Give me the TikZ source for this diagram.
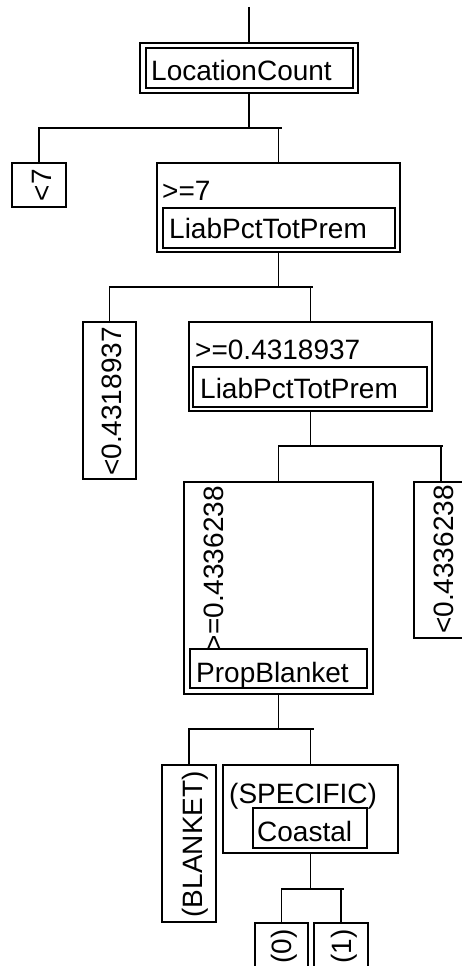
\documentclass[tikz,border=0pt]{standalone}
\usepackage{fontspec}
\setmainfont{Liberation Sans}
\begin{document}
\begin{tikzpicture}[x=1pt,y=-1pt,
  obox/.style={draw, line width=1.8pt, inner sep=0pt, rectangle},
  ibox/.style={draw, line width=1.3pt, inner sep=0pt, rectangle},
  lbl/.style={inner sep=0pt, font=\fontsize{28}{33}\selectfont},
  conn/.style={line width=1.8pt}]
\useasboundingbox (0,0) rectangle (462,966);
\fill[white] (0,0) rectangle (462,966);

% outer boxes
\node[obox, minimum width=218pt, minimum height=50pt] (root) at (249,68) {};
\node[obox, minimum width=54pt, minimum height=44pt] (lt7) at (39,185) {};
\node[obox, minimum width=243pt, minimum height=89pt] (ge7) at (278.5,207.5) {};
\node[obox, minimum width=53pt, minimum height=157pt] (lt43) at (109.5,400.5) {};
\node[obox, minimum width=243pt, minimum height=89pt] (ge43) at (310.5,366.5) {};
\node[obox, minimum width=189pt, minimum height=212pt] (ge4336) at (278.5,588) {};
\node[obox, minimum width=54pt, minimum height=156pt] (lt4336) at (441,560) {};
\node[obox, minimum width=54pt, minimum height=157pt] (blanket) at (189,843.5) {};
\node[obox, minimum width=175pt, minimum height=88pt] (specific) at (310.5,809) {};
\node[obox, minimum width=53pt, minimum height=100pt] (zero) at (281.5,973) {};
\node[obox, minimum width=54pt, minimum height=100pt] (one) at (341,973) {};

% inner boxes
\node[ibox, minimum width=207pt, minimum height=40pt] (rootin) at (249.5,68) {};
\node[ibox, minimum width=232pt, minimum height=40pt] (ge7in) at (279,228) {};
\node[ibox, minimum width=234pt, minimum height=40pt] (ge43in) at (310,387) {};
\node[ibox, minimum width=177pt, minimum height=39pt] (ge4336in) at (278.5,668.5) {};
\node[ibox, minimum width=114pt, minimum height=40pt] (specificin) at (310,828) {};

% horizontal texts
\node[lbl, anchor=base west] (t1) at (151,81) {LocationCount};
\node[lbl, anchor=base west] (t2) at (162,200) {>=7};
\node[lbl, anchor=base west] (t3) at (169,238) {LiabPctTotPrem};
\node[lbl, anchor=base west] (t4) at (195,359) {>=0.4318937};
\node[lbl, anchor=base west] (t5) at (200,398) {LiabPctTotPrem};
\node[lbl, anchor=base west] (t6) at (196,682) {PropBlanket};
\node[lbl, anchor=base west] (t7) at (229,803) {(SPECIFIC)};
\node[lbl, anchor=base west] (t8) at (257,841) {Coastal};

% rotated texts
\node[lbl, rotate=90, anchor=base east] (r1) at (51,169) {<7};
\node[lbl, rotate=90, anchor=base east] (r2) at (121,327) {<0.4318937};
\node[lbl, rotate=90, anchor=base east] (r3) at (223,486) {>=0.4336238};
\node[lbl, rotate=90, anchor=base east] (r4) at (453,485) {<0.4336238};
\node[lbl, rotate=90, anchor=base east] (r5) at (202,771) {(BLANKET)};
\node[lbl, rotate=90, anchor=base east] (r6) at (291,929) {(0)};
\node[lbl, rotate=90, anchor=base east] (r7) at (351,929) {(1)};

% connectors
\coordinate (top) at (249,7);
\coordinate (j1) at (0,128);
\coordinate (j2) at (0,287);
\coordinate (j3) at (0,446);
\coordinate (j4) at (0,729);
\coordinate (j5) at (0,889);

\draw[conn] (top) -- (root.north);

\draw[conn] (root.south) -- (root.south |- j1);
\draw[conn] (lt7.north) -- (lt7.north |- j1) -- ([xshift=3pt]ge7.north |- j1);
\draw[conn] (ge7.north) -- (ge7.north |- j1);

\draw[conn] (ge7.south) -- (ge7.south |- j2);
\draw[conn] (lt43.north) -- (lt43.north |- j2) -- ([xshift=2pt]ge43.north |- j2);
\draw[conn] (ge43.north) -- (ge43.north |- j2);

\draw[conn] (ge43.south) -- (ge43.south |- j3);
\draw[conn] (ge4336.north) -- (ge4336.north |- j3) -- ([xshift=2pt]lt4336.north |- j3);
\draw[conn] (lt4336.north) -- (lt4336.north |- j3);

\draw[conn] (ge4336.south) -- (ge4336.south |- j4);
\draw[conn] (blanket.north) -- (blanket.north |- j4) -- ([xshift=3pt]specific.north |- j4);
\draw[conn] (specific.north) -- (specific.north |- j4);

\draw[conn] (specific.south) -- (specific.south |- j5);
\draw[conn] (zero.north) -- (zero.north |- j5) -- ([xshift=3pt]one.north |- j5);
\draw[conn] (one.north) -- (one.north |- j5);
\end{tikzpicture}
\end{document}
